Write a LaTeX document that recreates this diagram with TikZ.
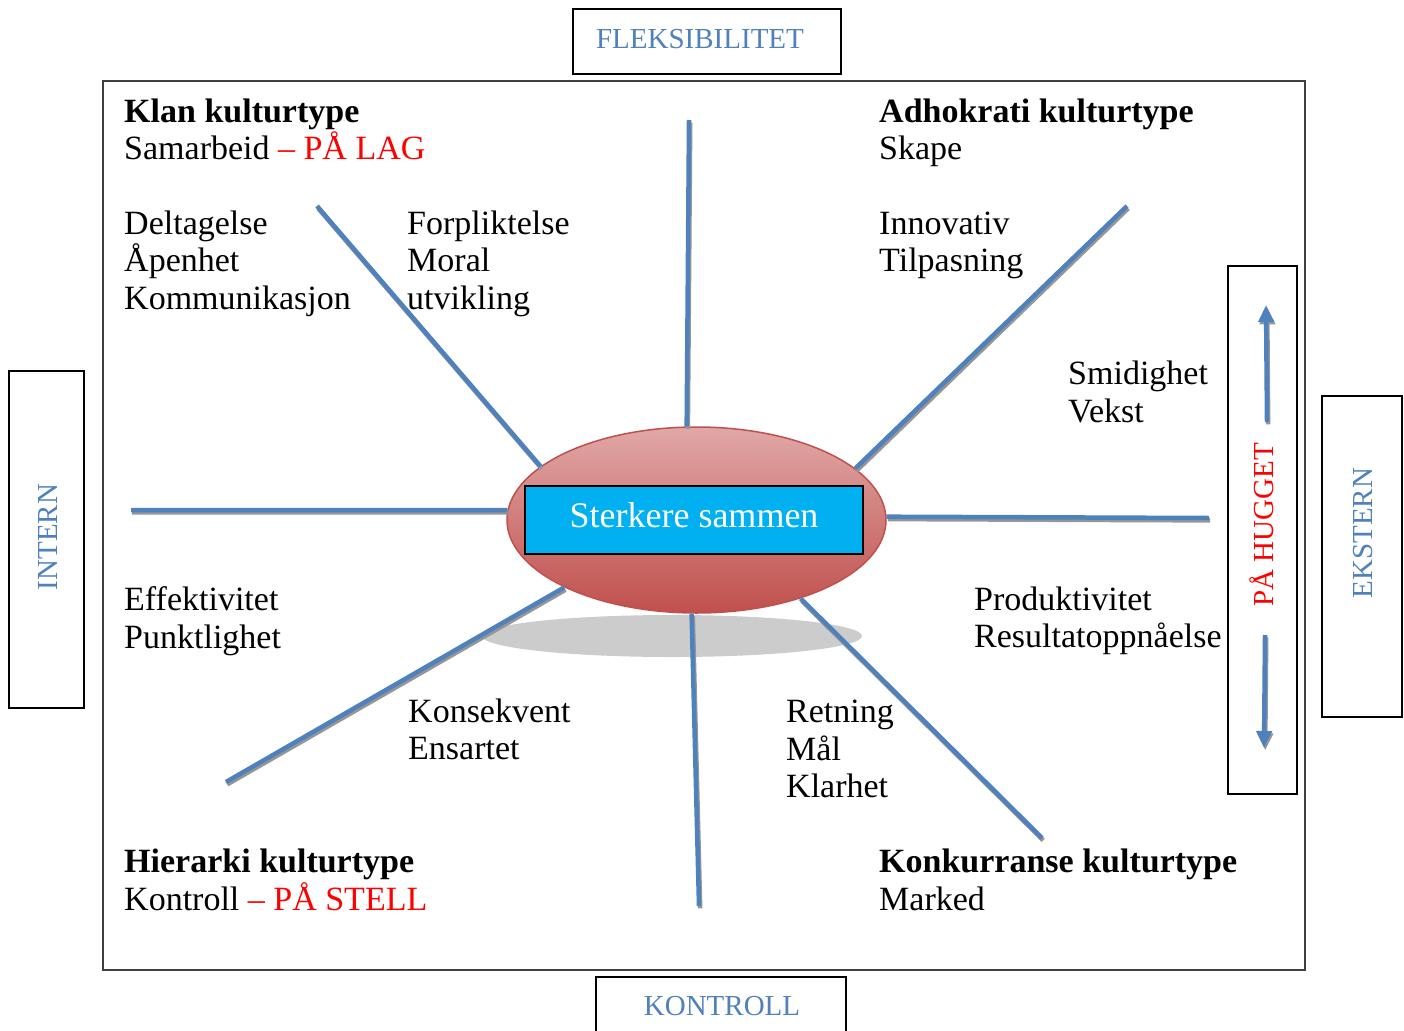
\documentclass[tikz,border=0pt]{standalone}
\usepackage{fontspec}
\setmainfont{Liberation Serif}
\usepackage{xcolor}
\usetikzlibrary{arrows.meta,shapes.geometric}

\definecolor{axisblue}{RGB}{79,129,189}
\definecolor{spokeshade}{RGB}{150,150,150}
\definecolor{puddle}{RGB}{204,204,204}
\definecolor{coretop}{RGB}{224,168,167}
\definecolor{corebottom}{RGB}{192,80,77}
\definecolor{mottocyan}{RGB}{0,176,240}
\definecolor{boardgray}{RGB}{64,64,64}

\newcommand{\bodyfont}{\fontsize{34pt}{37.5pt}\selectfont}
\newcommand{\axisfont}{\fontsize{29pt}{34pt}\selectfont}

\tikzset{
  txt/.style={anchor=north west, inner sep=0pt, align=left, font=\bodyfont},
  axisframe/.style={draw=black, line width=1.5pt, inner sep=0pt},
  axislabel/.style={text=axisblue, font=\axisfont, inner sep=0pt},
  spoke/.style={draw=axisblue, line width=4.5pt,
    preaction={draw=spokeshade, line width=4.5pt, transform canvas={shift={(1.2pt,-2.4pt)}}}},
}

\begin{document}
\begin{tikzpicture}[x=1pt,y=1pt,yscale=-1,xscale=1]
    \useasboundingbox (0,0) rectangle (1404,1030);

    % board
    \draw[boardgray, line width=1.5pt] (103,81) rectangle (1305,970);

    % axis frames
    \node[axisframe, minimum width=268pt, minimum height=65pt] (flexframe) at (707,41.5) {};
    \node[axisframe, minimum width=250pt, minimum height=57pt] (kontrollframe) at (721,1005.5) {};
    \node[axisframe, minimum width=75pt, minimum height=337pt] (internframe) at (46.5,539.5) {};
    \node[axisframe, minimum width=80pt, minimum height=321pt] (eksternframe) at (1362,556.5) {};
    \node[axisframe, minimum width=69pt, minimum height=528pt] (huggetframe) at (1262.5,530) {};

    % axis labels
    \node[axislabel] (flex) at (700,39) {FLEKSIBILITET};
    \node[axislabel] (kontroll) at (722,1006) {KONTROLL};
    \node[axislabel, rotate=90] (intern) at (48,537) {INTERN};
    \node[axislabel, rotate=90] (ekstern) at (1363,533) {EKSTERN};
    \node[axislabel, rotate=90, text=red] (hugget) at (1262,525) {PÅ HUGGET};

    % arrows beside PÅ HUGGET
    \coordinate (uptail) at (1267,422);
    \coordinate (uptip) at (1266,305);
    \coordinate (downtail) at (1265,635);
    \coordinate (downtip) at (1264,748);
    \draw[spoke, -{Triangle[width=15pt,length=17pt]}] (uptail) -- (uptip);
    \draw[spoke, -{Triangle[width=15pt,length=17pt]}] (downtail) -- (downtip);

    % shadow under the core
    \fill[puddle] (672,636) ellipse [x radius=190, y radius=21];

    % core
    \node[ellipse, draw=corebottom, line width=1.5pt, top color=coretop, bottom color=corebottom,
          minimum width=379pt, minimum height=186pt, inner sep=0pt] (core) at (696.5,520) {};
    \node[draw=black, line width=1.5pt, fill=mottocyan, text=white, minimum width=338pt, minimum height=68pt,
          inner sep=0pt, text depth=10pt, font=\fontsize{36pt}{40pt}\selectfont] (motto) at (694,520) {Sterkere sammen};

    % spokes
    \coordinate (tipN) at (689,120);
    \coordinate (tipNE) at (1127,206);
    \coordinate (tipE) at (1209,518);
    \coordinate (tipSE) at (1042,838);
    \coordinate (tipS) at (699,906);
    \coordinate (tipSW) at (226,782);
    \coordinate (tipW) at (131,510);
    \coordinate (tipNW) at (317,206);
    \draw[spoke] (tipN) -- (core.96);
    \draw[spoke] (tipNE) -- (core.18.6);
    \draw[spoke] (tipE) -- (core.1.2);
    \draw[spoke] (tipSE) -- (core.323.3);
    \draw[spoke] (tipS) -- (core.267);
    \draw[spoke] (tipSW) -- (core.207.3);
    \draw[spoke] (tipW) -- (core.177);
    \draw[spoke] (tipNW) -- (core.161.7);

    % quadrant texts
    \node[txt] (klan) at (124,98.5) {\textbf{Klan kulturtype}\\Samarbeid \textcolor{red}{– PÅ LAG}};
    \node[txt] (deltagelse) at (124,210.5) {Deltagelse\\Åpenhet\\Kommunikasjon};
    \node[txt] (forpliktelse) at (407,210.5) {Forpliktelse\\Moral\\utvikling};
    \node[txt] (adhokrati) at (879,98.5) {\textbf{Adhokrati kulturtype}\\Skape};
    \node[txt] (innovativ) at (879,211.5) {Innovativ\\Tilpasning};
    \node[txt] (smidighet) at (1068,361) {Smidighet\\Vekst};
    \node[txt] (effektivitet) at (124,586.8) {Effektivitet\\Punktlighet};
    \node[txt] (konsekvent) at (408,698.3) {Konsekvent\\Ensartet};
    \node[txt] (produktivitet) at (974,586.3) {Produktivitet\\Resultatoppnåelse};
    \node[txt] (retning) at (786,700) {Retning\\Mål\\Klarhet};
    \node[txt] (hierarki) at (124,849) {\textbf{Hierarki kulturtype}\\[0pt]Kontroll \textcolor{red}{– PÅ STELL}};
    \node[txt] (konkurranse) at (879,849) {\textbf{Konkurranse kulturtype}\\[0pt]Marked};

\end{tikzpicture}
\end{document}
